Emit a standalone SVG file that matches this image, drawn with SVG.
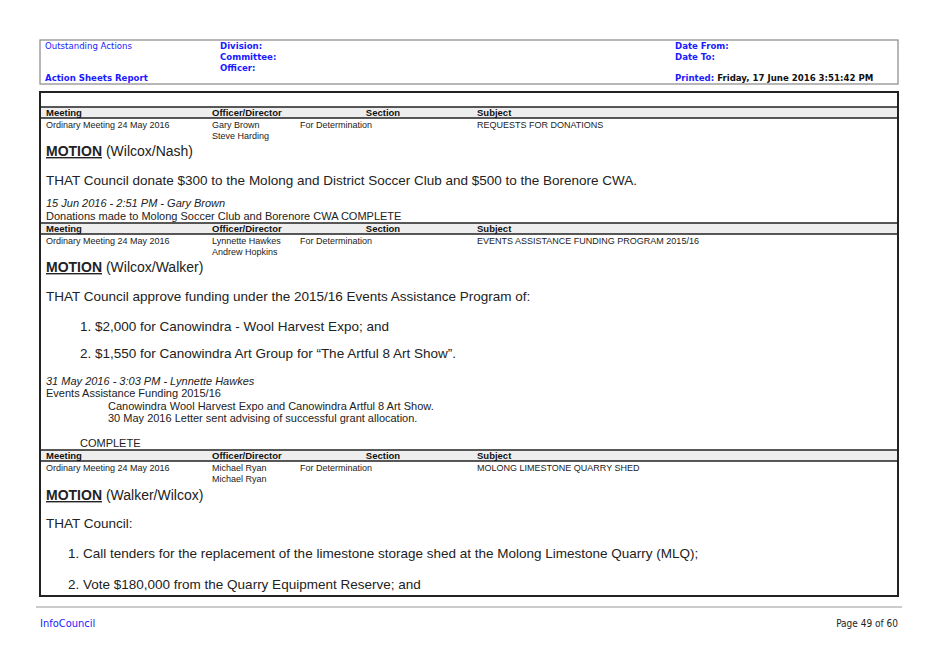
<svg xmlns="http://www.w3.org/2000/svg" width="939" height="664" viewBox="0 0 939 664">
<style>
.h{font-family:"DejaVu Sans",sans-serif;font-size:8.6px;fill:#1a1aff}
.hb{font-family:"DejaVu Sans",sans-serif;font-size:8.6px;font-weight:bold;fill:#1a1aff}
.s{font-family:"Liberation Sans",Arial,sans-serif;font-size:9px;fill:#222}
.sb{font-family:"Liberation Sans",Arial,sans-serif;font-size:9.5px;font-weight:bold;fill:#111}
.si{font-family:"Liberation Sans",Arial,sans-serif;font-size:11px;fill:#222}
.it{font-style:italic}
.b{font-family:"Liberation Sans",Arial,sans-serif;font-size:13.5px;fill:#222}
.m{font-family:"Liberation Sans",Arial,sans-serif;font-size:14px;fill:#222}
.band{fill:#eeeeee;stroke:none}
.ln{stroke:#222;stroke-width:1.5}
</style>
<rect width="939" height="664" fill="#fff"/>
<g id="header">
<rect x="40" y="40" width="858" height="44" fill="none" stroke="#888" stroke-width="1.2"/>
<text class="h" x="45" y="49">Outstanding Actions</text>
<text class="hb" x="45" y="81">Action Sheets Report</text>
<text class="hb" x="220" y="49">Division:</text>
<text class="hb" x="220" y="60">Committee:</text>
<text class="hb" x="220" y="71">Officer:</text>
<text class="hb" x="675" y="49">Date From:</text>
<text class="hb" x="675" y="60">Date To:</text>
<text class="hb" x="675" y="81">Printed: <tspan fill="#111">Friday, 17 June 2016  3:51:42 PM</tspan></text>
</g>
<g id="table">
<rect x="40" y="92" width="858" height="504" fill="none" stroke="#222" stroke-width="2"/>
<rect class="band" x="41" y="107" width="856" height="11"/>
<line class="ln" x1="40" y1="107" x2="898" y2="107"/>
<line class="ln" x1="40" y1="118" x2="898" y2="118"/>
<text class="sb" x="46" y="115.8">Meeting</text>
<text class="sb" x="212" y="115.8">Officer/Director</text>
<text class="sb" x="383" y="115.8" text-anchor="middle">Section</text>
<text class="sb" x="477" y="115.8">Subject</text>
<text class="s" x="46" y="128">Ordinary Meeting 24 May 2016</text>
<text class="s" x="212" y="128">Gary Brown</text>
<text class="s" x="212" y="139">Steve Harding</text>
<text class="s" x="300" y="128">For Determination</text>
<text class="s" x="477" y="128">REQUESTS FOR DONATIONS</text>
<text class="m" x="46" y="156"><tspan font-weight="bold" text-decoration="underline">MOTION</tspan> (Wilcox/Nash)</text>
<text class="b" x="46" y="185">THAT Council donate $300 to the Molong and District Soccer Club and $500 to the Borenore CWA.</text>
<text class="si it" x="46" y="207">15 Jun 2016 - 2:51 PM - Gary Brown</text>
<text class="si" x="46" y="220">Donations made to Molong Soccer Club and Borenore CWA COMPLETE</text>

<rect class="band" x="41" y="223" width="856" height="11"/>
<line class="ln" x1="40" y1="223" x2="898" y2="223"/>
<line class="ln" x1="40" y1="234" x2="898" y2="234"/>
<text class="sb" x="46" y="231.8">Meeting</text>
<text class="sb" x="212" y="231.8">Officer/Director</text>
<text class="sb" x="383" y="231.8" text-anchor="middle">Section</text>
<text class="sb" x="477" y="231.8">Subject</text>
<text class="s" x="46" y="244">Ordinary Meeting 24 May 2016</text>
<text class="s" x="212" y="244">Lynnette Hawkes</text>
<text class="s" x="212" y="255">Andrew Hopkins</text>
<text class="s" x="300" y="244">For Determination</text>
<text class="s" x="477" y="244">EVENTS ASSISTANCE FUNDING PROGRAM 2015/16</text>
<text class="m" x="46" y="272"><tspan font-weight="bold" text-decoration="underline">MOTION</tspan> (Wilcox/Walker)</text>
<text class="b" x="46" y="301">THAT Council approve funding under the 2015/16 Events Assistance Program of:</text>
<text class="b" x="80" y="331">1. $2,000 for Canowindra - Wool Harvest Expo; and</text>
<text class="b" x="80" y="358">2. $1,550 for Canowindra Art Group for “The Artful 8 Art Show”.</text>
<text class="si it" x="46" y="385">31 May 2016 - 3:03 PM - Lynnette Hawkes</text>
<text class="si" x="46" y="397">Events Assistance Funding 2015/16</text>
<text class="si" x="108" y="410">Canowindra Wool Harvest Expo and Canowindra Artful 8 Art Show.</text>
<text class="si" x="108" y="422">30 May 2016 Letter sent advising of successful grant allocation.</text>
<text class="si" x="80" y="447">COMPLETE</text>

<rect class="band" x="41" y="450" width="856" height="11"/>
<line class="ln" x1="40" y1="450" x2="898" y2="450"/>
<line class="ln" x1="40" y1="461" x2="898" y2="461"/>
<text class="sb" x="46" y="458.8">Meeting</text>
<text class="sb" x="212" y="458.8">Officer/Director</text>
<text class="sb" x="383" y="458.8" text-anchor="middle">Section</text>
<text class="sb" x="477" y="458.8">Subject</text>
<text class="s" x="46" y="471">Ordinary Meeting 24 May 2016</text>
<text class="s" x="212" y="471">Michael Ryan</text>
<text class="s" x="212" y="482">Michael Ryan</text>
<text class="s" x="300" y="471">For Determination</text>
<text class="s" x="477" y="471">MOLONG LIMESTONE QUARRY SHED</text>
<text class="m" x="46" y="500"><tspan font-weight="bold" text-decoration="underline">MOTION</tspan> (Walker/Wilcox)</text>
<text class="b" x="46" y="528">THAT Council:</text>
<text class="b" x="68" y="558">1.  Call tenders for the replacement of the limestone storage shed at the Molong Limestone Quarry (MLQ);</text>
<text class="b" x="68" y="589">2.  Vote $180,000 from the Quarry Equipment Reserve; and</text>
</g>
<g id="footer">
<line x1="36" y1="607" x2="902" y2="607" stroke="#999" stroke-width="1"/>
<text x="40" y="627" font-family="'Liberation Sans Narrow','DejaVu Sans Condensed',sans-serif" font-size="11" fill="#1a1aff">InfoCouncil</text>
<text x="898" y="627" text-anchor="end" font-family="'Liberation Sans Narrow','DejaVu Sans Condensed',sans-serif" font-size="10" fill="#222">Page 49 of 60</text>
</g>
</svg>
